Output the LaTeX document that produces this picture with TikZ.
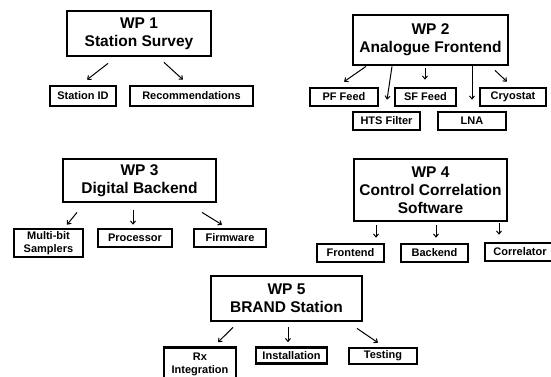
\documentclass[tikz,border=0pt]{standalone}
\usepackage{fontspec}
\setmainfont{Liberation Sans}
\usetikzlibrary{arrows.meta}
\begin{document}
\begin{tikzpicture}[x=1pt,y=-1pt,
  wpbox/.style={draw,line width=2.8pt,inner sep=0pt,align=center,font=\fontsize{15.5}{18}\selectfont\bfseries},
  taskbox/.style={draw,line width=2.6pt,inner sep=0pt,align=center,font=\fontsize{11}{13}\selectfont\bfseries},
  arr/.style={line width=1pt,-{Straight Barb[length=3pt,width=5pt]}}]
\useasboundingbox (0,0) rectangle (551,376);
\clip (0,0) rectangle (551,376);
\fill[white] (0,0) rectangle (551,376);
% WP1
\node[wpbox,minimum width=144pt,minimum height=45pt] (wp1) at (139,33.5) {WP 1\\Station Survey};
\node[taskbox,minimum width=66pt,minimum height=20pt] (sid) at (83,96) {Station ID};
\node[taskbox,minimum width=123pt,minimum height=20pt] (rec) at (191.5,96) {Recommendations};
\draw[arr] ([xshift=-31pt,yshift=-6pt]wp1.south) -- ([xshift=4pt,yshift=5pt]sid.north);
\draw[arr] ([xshift=25pt,yshift=-5pt]wp1.south) -- ([xshift=-8.5pt,yshift=5pt]rec.north);
% WP2
\node[wpbox,minimum width=155pt,minimum height=50pt] (wp2) at (430.5,40) {WP 2\\Analogue Frontend};
\node[taskbox,minimum width=68pt,minimum height=18pt] (pf) at (344,97) {PF Feed};
\node[taskbox,minimum width=61pt,minimum height=18pt] (sf) at (425.5,97) {SF Feed};
\node[taskbox,minimum width=66pt,minimum height=18pt] (cryo) at (513,97) {Cryostat};
\node[taskbox,minimum width=67pt,minimum height=18pt] (hts) at (386.5,121) {HTS Filter};
\node[taskbox,minimum width=68pt,minimum height=18pt] (lna) at (472,121) {LNA};
\draw[arr] ([xshift=-64.5pt,yshift=0pt]wp2.south) -- ([xshift=0pt,yshift=5pt]pf.north);
\draw[arr] ([xshift=-38.5pt,yshift=0pt]wp2.south) -- ([xshift=0.5pt,yshift=11pt]hts.north);
\draw[arr] ([xshift=-5.5pt,yshift=-2pt]wp2.south) -- ([xshift=-0.5pt,yshift=7pt]sf.north);
\draw[arr] ([xshift=41.5pt,yshift=0pt]wp2.south) -- ([xshift=0pt,yshift=11pt]lna.north);
\draw[arr] ([xshift=64.5pt,yshift=-4pt]wp2.south) -- ([xshift=-6pt,yshift=5pt]cryo.north);
% WP3
\node[wpbox,minimum width=153pt,minimum height=43pt] (wp3) at (139.5,180.5) {WP 3\\Digital Backend};
\node[taskbox,minimum width=69pt,minimum height=28pt] (mb) at (48.5,243) {Multi-bit\\Samplers};
\node[taskbox,minimum width=74pt,minimum height=18pt] (proc) at (135,238) {Processor};
\node[taskbox,minimum width=72pt,minimum height=18pt] (fw) at (230,238) {Firmware};
\draw[arr] ([xshift=-62.5pt,yshift=-9pt]wp3.south) -- ([xshift=18.5pt,yshift=3pt]mb.north);
\draw[arr] ([xshift=-6.5pt,yshift=-7pt]wp3.south) -- ([xshift=-2pt,yshift=3pt]proc.north);
\draw[arr] ([xshift=62.5pt,yshift=-9pt]wp3.south) -- ([xshift=-8pt,yshift=3pt]fw.north);
% WP4
\node[wpbox,minimum width=153pt,minimum height=62pt] (wp4) at (430.5,190) {WP 4\\Control Correlation\\Software};
\node[taskbox,minimum width=67pt,minimum height=18pt] (fe) at (350.5,253) {Frontend};
\node[taskbox,minimum width=67pt,minimum height=18pt] (be) at (434.5,253) {Backend};
\node[taskbox,minimum width=70pt,minimum height=18pt] (co) at (520,252) {Correlator};
\draw[arr] ([xshift=-54.5pt,yshift=-3pt]wp4.south) -- ([xshift=25.5pt,yshift=5pt]fe.north);
\draw[arr] ([xshift=5.5pt,yshift=-3pt]wp4.south) -- ([xshift=1.5pt,yshift=5pt]be.north);
\draw[arr] ([xshift=68.5pt,yshift=-1pt]wp4.south) -- ([xshift=-21pt,yshift=7pt]co.north);
% WP5
\node[wpbox,minimum width=151pt,minimum height=45pt] (wp5) at (286.5,298.5) {WP 5\\BRAND Station};
\node[taskbox,minimum width=72pt,minimum height=33pt] (rx) at (200,364) {Rx\\Integration};
\node[taskbox,minimum width=71pt,minimum height=16pt] (inst) at (291.5,355.5) {Installation};
\node[taskbox,minimum width=68pt,minimum height=16pt] (test) at (383,356) {Testing};
\draw[arr] ([xshift=-53.5pt,yshift=-5pt]wp5.south) -- ([xshift=18pt,yshift=4pt]rx.north);
\draw[arr] ([xshift=1.5pt,yshift=-5pt]wp5.south) -- ([xshift=-3.5pt,yshift=4pt]inst.north);
\draw[arr] ([xshift=70.5pt,yshift=-6pt]wp5.south) -- ([xshift=-5pt,yshift=4pt]test.north);
\end{tikzpicture}
\end{document}
